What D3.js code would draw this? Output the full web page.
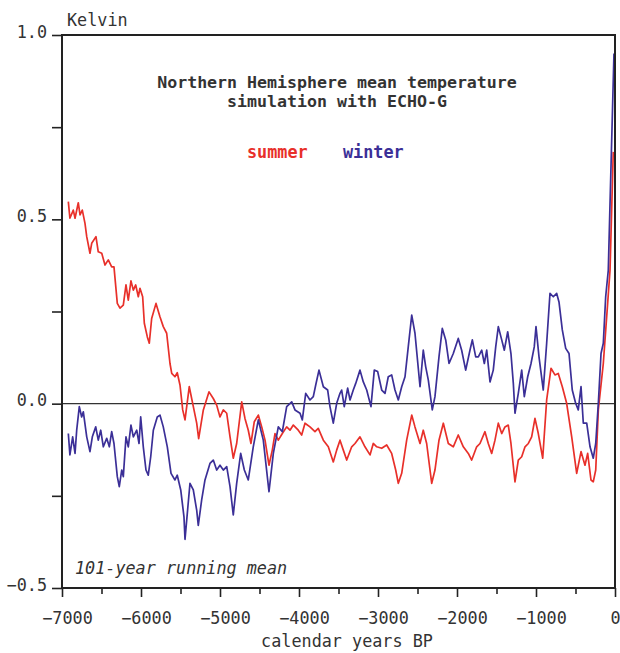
<!DOCTYPE html>
<html>
<head>
<meta charset="utf-8">
<script src="https://cdn.jsdelivr.net/npm/d3@7"></script>
<style>
  body { margin: 0; background: #fff; }
  text { font-family: "DejaVu Sans Mono", monospace; fill: #333; }
</style>
</head>
<body>
<script>
// 101-year running mean, Kelvin, ECHO-G
var summerYears = [-6920,-6900,-6857,-6835,-6794,-6772,-6743,-6709,-6687,-6646,-6624,-6570,-6541,-6497,-6456,-6414,-6371,-6342,-6300,-6266,
  -6224,-6190,-6161,-6127,-6097,-6067,-6034,-6013,-5979,-5958,-5920,-5895,-5865,-5810,-5760,-5718,-5675,-5633,-5611,-5570,
  -5541,-5506,-5472,-5443,-5389,-5346,-5295,-5270,-5211,-5139,-5085,-5042,-5000,-4958,-4915,-4873,-4832,-4789,-4725,-4684,
  -4642,-4608,-4566,-4515,-4472,-4430,-4380,-4338,-4304,-4262,-4211,-4156,-4114,-4072,-4009,-3966,-3924,-3861,-3798,-3756,
  -3692,-3629,-3566,-3523,-3481,-3439,-3396,-3333,-3291,-3228,-3165,-3101,-3060,-3016,-2953,-2890,-2827,-2776,-2743,-2700,
  -2637,-2573,-2532,-2468,-2427,-2384,-2320,-2279,-2228,-2173,-2110,-2047,-1984,-1920,-1857,-1814,-1751,-1709,-1646,-1604,
  -1561,-1519,-1477,-1434,-1393,-1351,-1317,-1266,-1224,-1181,-1139,-1097,-1055,-1013,-971,-915,-865,-810,-760,-718,
  -667,-612,-548,-485,-430,-380,-346,-304,-275,-244,-211,-148,-93,-63,-22];
var summerTemp = [0.548,0.503,0.525,0.503,0.545,0.512,0.525,0.489,0.453,0.408,0.435,0.453,0.412,0.408,0.376,0.39,0.371,0.371,0.272,0.259,
  0.267,0.322,0.281,0.333,0.308,0.322,0.29,0.313,0.29,0.218,0.181,0.164,0.231,0.272,0.236,0.209,0.191,0.109,0.082,0.073,
  0.084,0.05,-0.017,-0.044,0.046,0.001,-0.053,-0.095,-0.017,0.032,0.014,-0.004,-0.036,-0.017,-0.026,-0.09,-0.148,-0.108,0.005,-0.04,
  -0.072,-0.108,-0.049,-0.031,-0.063,-0.099,-0.167,-0.126,-0.081,-0.099,-0.081,-0.063,-0.072,-0.058,-0.072,-0.085,-0.053,-0.063,-0.076,-0.067,
  -0.099,-0.117,-0.158,-0.126,-0.099,-0.126,-0.153,-0.117,-0.108,-0.09,-0.117,-0.139,-0.108,-0.117,-0.121,-0.112,-0.135,-0.18,-0.216,-0.189,
  -0.099,-0.031,-0.063,-0.108,-0.072,-0.108,-0.216,-0.18,-0.099,-0.053,-0.108,-0.117,-0.085,-0.117,-0.135,-0.153,-0.117,-0.108,-0.076,-0.108,
  -0.135,-0.099,-0.053,-0.081,-0.063,-0.058,-0.108,-0.212,-0.153,-0.144,-0.117,-0.108,-0.09,-0.04,-0.081,-0.148,0.01,0.096,0.078,0.082,
  0.046,0.001,-0.09,-0.189,-0.13,-0.167,-0.135,-0.207,-0.212,-0.18,-0.017,0.109,0.272,0.362,0.683];

var winterYears = [-6920,-6900,-6865,-6835,-6814,-6781,-6751,-6730,-6687,-6646,-6616,-6573,-6541,-6510,-6477,-6434,-6401,-6371,-6342,-6300,
  -6275,-6244,-6224,-6190,-6161,-6127,-6097,-6054,-6025,-6004,-5971,-5937,-5908,-5877,-5844,-5794,-5760,-5718,-5667,-5620,
  -5570,-5541,-5497,-5456,-5443,-5380,-5338,-5295,-5275,-5232,-5190,-5127,-5085,-5042,-5000,-4958,-4915,-4873,-4832,-4789,
  -4738,-4692,-4642,-4579,-4515,-4452,-4380,-4325,-4262,-4211,-4156,-4092,-4051,-3987,-3958,-3915,-3861,-3819,-3789,-3747,
  -3692,-3637,-3608,-3566,-3523,-3481,-3460,-3427,-3384,-3354,-3313,-3282,-3228,-3186,-3143,-3089,-3047,-3004,-2953,-2911,
  -2870,-2827,-2785,-2743,-2700,-2658,-2617,-2573,-2532,-2468,-2427,-2396,-2363,-2313,-2279,-2228,-2186,-2143,-2101,-2047,
  -1984,-1941,-1890,-1836,-1806,-1763,-1730,-1687,-1654,-1624,-1582,-1541,-1510,-1477,-1434,-1401,-1358,-1317,-1287,-1266,
  -1224,-1181,-1148,-1105,-1063,-1022,-1000,-962,-908,-865,-823,-781,-738,-709,-667,-624,-582,-541,-498,-465,
  -430,-401,-358,-316,-275,-244,-211,-177,-148,-118,-85,-13];
var winterTemp = [-0.081,-0.139,-0.09,-0.135,-0.072,-0.008,-0.036,-0.022,-0.09,-0.13,-0.09,-0.063,-0.099,-0.072,-0.117,-0.094,-0.117,-0.076,-0.108,-0.198,
  -0.225,-0.18,-0.198,-0.09,-0.117,-0.058,-0.09,-0.072,-0.108,-0.036,-0.117,-0.18,-0.194,-0.144,-0.072,-0.036,-0.031,-0.063,-0.117,-0.189,
  -0.207,-0.194,-0.234,-0.307,-0.368,-0.216,-0.234,-0.289,-0.33,-0.261,-0.207,-0.162,-0.153,-0.18,-0.167,-0.18,-0.171,-0.225,-0.302,-0.216,
  -0.135,-0.18,-0.207,-0.117,-0.044,-0.099,-0.239,-0.135,-0.063,-0.076,-0.008,0.005,-0.017,-0.026,-0.044,0.028,0.01,0.019,0.05,0.091,
  0.046,0.037,-0.008,-0.053,0.001,0.028,0.037,-0.008,0.042,0.01,0.037,0.055,0.091,0.059,0.037,-0.008,0.091,0.087,0.037,0.028,
  0.073,0.078,0.037,0.01,0.046,0.073,0.154,0.24,0.191,0.046,0.145,0.1,0.064,-0.017,0.019,0.127,0.204,0.173,0.109,0.136,
  0.177,0.145,0.091,0.145,0.173,0.127,0.127,0.145,0.109,0.145,0.059,0.091,0.154,0.209,0.173,0.145,0.195,0.136,0.055,-0.026,
  0.028,0.091,0.019,0.073,0.109,0.154,0.209,0.127,0.037,0.164,0.299,0.29,0.299,0.276,0.2,0.15,0.136,0.037,0.001,-0.017,
  0.046,-0.053,-0.053,-0.117,-0.148,-0.108,0.001,0.136,0.164,0.29,0.362,0.95];

var xMajorTicks = [-7000,-6000,-5000,-4000,-3000,-2000,-1000,0];
var xMinorTicks = [-6500,-5500,-4500,-3500,-2500,-1500,-500];
var yTicks = [-0.5,-0.25,0,0.25,0.5,0.75,1.0];
var yLabelTicks = [-0.5,0,0.5,1.0];

var titleLines = ["Northern Hemisphere mean temperature", "simulation with ECHO-G"];
var summerColor = "#e8302a";
var winterColor = "#3b2f97";

var width = 620, height = 653;
var plotLeft = 62, plotRight = 615, plotTop = 35, plotBottom = 588;

var svg = d3.select("body").append("svg")
  .attr("width", width)
  .attr("height", height);

var x = d3.scaleLinear().domain([-7000, 0]).range([plotLeft, plotRight]);
var y = d3.scaleLinear().domain([-0.5, 1.0]).range([plotBottom, plotTop]);

function pairs(years, temps) {
  return years.map(function(d, i) { return [d, temps[i]]; });
}

// zero line
svg.append("line")
  .attr("x1", plotLeft).attr("x2", plotRight)
  .attr("y1", y(0)).attr("y2", y(0))
  .attr("stroke", "#333")
  .attr("stroke-width", 1.3);

var line = d3.line()
  .x(function(d) { return x(d[0]); })
  .y(function(d) { return y(d[1]); });

svg.append("path")
  .datum(pairs(summerYears, summerTemp))
  .attr("d", line)
  .attr("fill", "none")
  .attr("stroke", summerColor)
  .attr("stroke-width", 1.7)
  .attr("stroke-linejoin", "round");

svg.append("path")
  .datum(pairs(winterYears, winterTemp))
  .attr("d", line)
  .attr("fill", "none")
  .attr("stroke", winterColor)
  .attr("stroke-width", 1.7)
  .attr("stroke-linejoin", "round");

// frame
svg.append("rect")
  .attr("x", plotLeft).attr("y", plotTop)
  .attr("width", plotRight - plotLeft).attr("height", plotBottom - plotTop)
  .attr("fill", "none")
  .attr("stroke", "#222")
  .attr("stroke-width", 2);

// x axis: minor and major ticks
svg.append("g")
  .attr("transform", "translate(0," + plotBottom + ")")
  .call(d3.axisBottom(x).tickValues(xMinorTicks).tickSize(6).tickFormat(""))
  .call(styleAxis);

svg.append("g")
  .attr("transform", "translate(0," + plotBottom + ")")
  .call(d3.axisBottom(x).tickValues(xMajorTicks).tickSize(9).tickPadding(15)
    .tickFormat(d3.format("d")))
  .call(styleAxis)
  .selectAll("text")
  .attr("dx", function(d) { return d < 0 ? 5 : 0; });

// y axis
svg.append("g")
  .attr("transform", "translate(" + plotLeft + ",0)")
  .call(d3.axisLeft(y).tickValues(yTicks).tickSize(10).tickPadding(5)
    .tickFormat(function(d) { return yLabelTicks.indexOf(d) >= 0 ? d3.format(".1f")(d) : ""; }))
  .call(styleAxis)
  .selectAll("text")
  .attr("dy", "0.12em");

function styleAxis(g) {
  g.select(".domain").remove();
  g.selectAll(".tick line").attr("stroke", "#222").attr("stroke-width", 1.6);
  g.selectAll("text")
    .attr("fill", "#333")
    .style("font-family", "'DejaVu Sans Mono', monospace")
    .style("font-size", "16.8px");
}

// texts
svg.append("text")
  .attr("x", 67).attr("y", 26)
  .style("font-size", "16.8px")
  .text("Kelvin");

svg.selectAll(".title")
  .data(titleLines)
  .enter()
  .append("text")
  .attr("class", "title")
  .attr("x", 337)
  .attr("y", function(d, i) { return 88 + i * 18.5; })
  .attr("text-anchor", "middle")
  .style("font-size", "16.6px")
  .style("font-weight", "bold")
  .text(function(d) { return d; });

svg.append("text")
  .attr("x", 247).attr("y", 158)
  .style("font-size", "16.8px")
  .style("font-weight", "bold")
  .style("fill", summerColor)
  .text("summer");

svg.append("text")
  .attr("x", 343).attr("y", 158)
  .style("font-size", "16.8px")
  .style("font-weight", "bold")
  .style("fill", winterColor)
  .text("winter");

svg.append("text")
  .attr("x", 75).attr("y", 574)
  .style("font-size", "16.8px")
  .style("font-style", "italic")
  .text("101-year running mean");

svg.append("text")
  .attr("x", 347).attr("y", 647)
  .attr("text-anchor", "middle")
  .style("font-size", "16.8px")
  .text("calendar years BP");
</script>
</body>
</html>
